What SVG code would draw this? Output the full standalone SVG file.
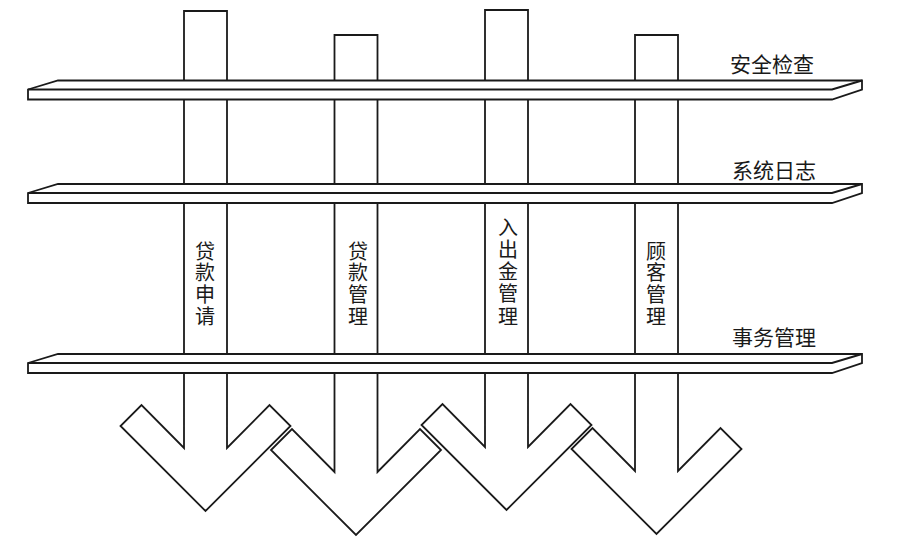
<svg xmlns="http://www.w3.org/2000/svg" width="907" height="550" viewBox="0 0 907 550">
<style>
.shape{fill:#fff;stroke:#1a1a1a;stroke-width:1.8;stroke-linejoin:miter}
.edge{fill:none;stroke:#1a1a1a;stroke-width:2}
.lbl{font-family:"Noto Sans CJK SC","Noto Sans",sans-serif;font-size:21px;fill:#1a1a1a}
.vt{font-family:"Noto Sans CJK SC","Noto Sans",sans-serif;font-size:20px;fill:#1a1a1a;writing-mode:vertical-rl;text-orientation:upright;letter-spacing:1.7px}
</style>
<rect width="907" height="550" fill="#fff"/>
<g id="modules">
  <g id="col-loan-apply">
    <path class="shape" d="M184,11 H227 V448 L269.5,405 L290.5,426 L205.5,511 L120.5,426 L141.5,405 L184,448 Z"/>
    <text class="vt" x="205" y="241">贷款申请</text>
  </g>
  <g id="col-loan-manage">
    <path class="shape" d="M334.5,35 H377.5 V472 L420,429 L441,450 L356,535 L271,450 L292,429 L334.5,472 Z"/>
    <text class="vt" x="358" y="241">贷款管理</text>
  </g>
  <g id="col-cash-manage">
    <path class="shape" d="M485,10 H528 V447 L570.5,404 L591.5,425 L506.5,510 L421.5,425 L442.5,404 L485,447 Z"/>
    <text class="vt" x="508" y="217" style="letter-spacing:2.3px">入出金管理</text>
  </g>
  <g id="col-customer-manage">
    <path class="shape" d="M635,35 H678 V471 L720.5,428 L741.5,449 L656.5,534 L571.5,449 L592.5,428 L635,471 Z"/>
    <text class="vt" x="656" y="241">顾客管理</text>
  </g>
</g>
<g id="layers">
  <g id="bar-security">
    <path class="shape" d="M28,89.5 L58,80.5 L862,80.5 L862,89.5 L832,99.5 L28,99.5 Z"/>
    <path class="edge" d="M28,89.5 H832 L862,80.5"/>
    <text class="lbl" x="730" y="72">安全检查</text>
  </g>
  <g id="bar-syslog">
    <path class="shape" d="M28,193 L58,184 L862,184 L862,193 L832,203 L28,203 Z"/>
    <path class="edge" d="M28,193 H832 L862,184"/>
    <text class="lbl" x="732" y="178">系统日志</text>
  </g>
  <g id="bar-transaction">
    <path class="shape" d="M28,363 L58,354 L862,354 L862,363 L832,373 L28,373 Z"/>
    <path class="edge" d="M28,363 H832 L862,354"/>
    <text class="lbl" x="732" y="345">事务管理</text>
  </g>
</g>
<g id="connectors"></g>
</svg>
